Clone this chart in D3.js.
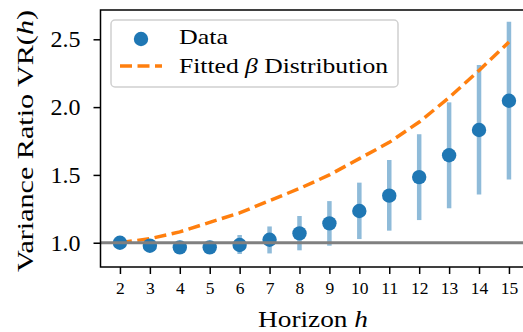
<!DOCTYPE html>
<html>
<head>
<meta charset="utf-8">
<script src="https://cdn.jsdelivr.net/npm/d3@7"></script>
<style>
  body { margin: 0; background: #fff; }
  svg { display: block; font-family: "Liberation Serif", "DejaVu Serif", serif; }
</style>
</head>
<body>
<script>
// variance ratio by horizon, with error bars and the fitted beta curve
var horizons = [2, 3, 4, 5, 6, 7, 8, 9, 10, 11, 12, 13, 14, 15];
var vrMean   = [1.00, 0.978, 0.966, 0.966, 0.983, 1.022, 1.069, 1.143, 1.234, 1.347, 1.484, 1.645, 1.831, 2.047];
var vrLow    = [1.00, 0.95, 0.94, 0.93, 0.917, 0.921, 0.944, 0.978, 1.027, 1.089, 1.167, 1.254, 1.355, 1.467];
var vrHigh   = [1.00, 1.00, 1.00, 1.01, 1.057, 1.12, 1.197, 1.307, 1.443, 1.61, 1.80, 2.035, 2.31, 2.63];
var betaFit  = [1.00, 1.03, 1.08, 1.15, 1.22, 1.31, 1.40, 1.50, 1.62, 1.74, 1.89, 2.07, 2.27, 2.48];
var yTicks   = [1.0, 1.5, 2.0, 2.5];
var legendLabels = ["Data", "Fitted \u03b2 Distribution"];

var margin = {top: 10, bottom: 65, left: 100.5, right: 0},
    width = 427.9,
    height = 332 - margin.top - margin.bottom;

var x = d3.scaleLinear()
        .domain([1.35, 15.65])
        .range([0, width]);

var y = d3.scaleLinear()
        .domain([0.821, 2.716])
        .range([height, 0]);

var svg = d3.select("body").append("svg")
        .attr("width", 523)
        .attr("height", 332)
        .append("g")
        .attr("transform", "translate(" + margin.left + "," + margin.top + ")");

var data = horizons.map(function(h, i){
    return {h: h, mean: vrMean[i], lo: vrLow[i], hi: vrHigh[i], fit: betaFit[i]};
});

// error bars
svg.selectAll(".err")
    .data(data)
    .enter().append("line")
    .attr("class", "err")
    .attr("x1", function(d){ return x(d.h); })
    .attr("x2", function(d){ return x(d.h); })
    .attr("y1", function(d){ return y(d.lo); })
    .attr("y2", function(d){ return y(d.hi); })
    .attr("stroke", "#8fbbd9")
    .attr("stroke-width", 4.5);

// fitted beta curve
var line = d3.line()
    .x(function(d){ return x(d.h); })
    .y(function(d){ return y(d.fit); });

svg.append("path")
    .datum(data)
    .attr("d", line)
    .attr("fill", "none")
    .attr("stroke", "#ff7f0e")
    .attr("stroke-width", 3.5)
    .attr("stroke-dasharray", "12,5.5");

// points
svg.selectAll(".dot")
    .data(data)
    .enter().append("circle")
    .attr("class", "dot")
    .attr("cx", function(d){ return x(d.h); })
    .attr("cy", function(d){ return y(d.mean); })
    .attr("r", 7.2)
    .attr("fill", "#1f77b4");

// reference line at 1
svg.append("line")
    .attr("x1", 0)
    .attr("x2", width)
    .attr("y1", y(1))
    .attr("y2", y(1))
    .attr("stroke", "#808080")
    .attr("stroke-width", 3);

// axes
var xAxis = svg.append("g")
    .attr("transform", "translate(0," + height + ")")
    .call(d3.axisBottom(x).tickValues(horizons).tickSize(7).tickPadding(8).tickSizeOuter(0));
xAxis.select(".domain").remove();
xAxis.selectAll("line").attr("stroke-width", 1.5);
xAxis.selectAll("text")
    .style("font-family", "Liberation Serif")
    .style("font-size", "17.5px")
    .attr("fill", "#000");

var yAxis = svg.append("g")
    .call(d3.axisLeft(y).tickValues(yTicks).tickFormat(d3.format(".1f")).tickSize(7).tickPadding(13));
yAxis.select(".domain").remove();
yAxis.selectAll("line").attr("stroke-width", 1.5);
yAxis.selectAll("text")
    .style("font-family", "Liberation Serif")
    .style("font-size", "24px")
    .attr("fill", "#000");

// frame
svg.append("rect")
    .attr("x", 0)
    .attr("y", 0)
    .attr("width", width)
    .attr("height", height)
    .attr("fill", "none")
    .attr("stroke", "#000")
    .attr("stroke-width", 1.5);

// labels
svg.append("text")
    .attr("text-anchor", "middle")
    .attr("transform", "translate(" + (33 - margin.left) + "," + (141 - margin.top) + ") rotate(-90)")
    .attr("textLength", 262)
    .attr("lengthAdjust", "spacingAndGlyphs")
    .style("font-size", "24px")
    .html("Variance Ratio VR(<tspan font-style='italic'>h</tspan>)");

svg.append("text")
    .attr("text-anchor", "middle")
    .attr("x", 313 - margin.left)
    .attr("y", 327 - margin.top)
    .attr("textLength", 110)
    .attr("lengthAdjust", "spacingAndGlyphs")
    .style("font-size", "23px")
    .html("Horizon <tspan font-style='italic'>h</tspan>");

// legend
var legend = svg.append("g")
    .attr("transform", "translate(" + (111 - margin.left) + "," + (20 - margin.top) + ")");

legend.append("rect")
    .attr("width", 287)
    .attr("height", 67)
    .attr("rx", 4)
    .attr("fill", "#fff")
    .attr("fill-opacity", 0.8)
    .attr("stroke", "#d0d0d0")
    .attr("stroke-width", 1.5);

legend.append("circle")
    .attr("cx", 30)
    .attr("cy", 19)
    .attr("r", 7.2)
    .attr("fill", "#1f77b4");

legend.append("line")
    .attr("x1", 9)
    .attr("x2", 51)
    .attr("y1", 46)
    .attr("y2", 46)
    .attr("stroke", "#ff7f0e")
    .attr("stroke-width", 3.5)
    .attr("stroke-dasharray", "12,5.5");

legend.append("text")
    .attr("x", 68)
    .attr("y", 24)
    .attr("textLength", 49)
    .attr("lengthAdjust", "spacingAndGlyphs")
    .style("font-size", "21px")
    .text(legendLabels[0]);

legend.append("text")
    .attr("x", 68)
    .attr("y", 53)
    .attr("textLength", 209)
    .attr("lengthAdjust", "spacingAndGlyphs")
    .style("font-size", "21px")
    .html("Fitted <tspan font-style='italic'>\u03b2</tspan> Distribution");
</script>
</body>
</html>
